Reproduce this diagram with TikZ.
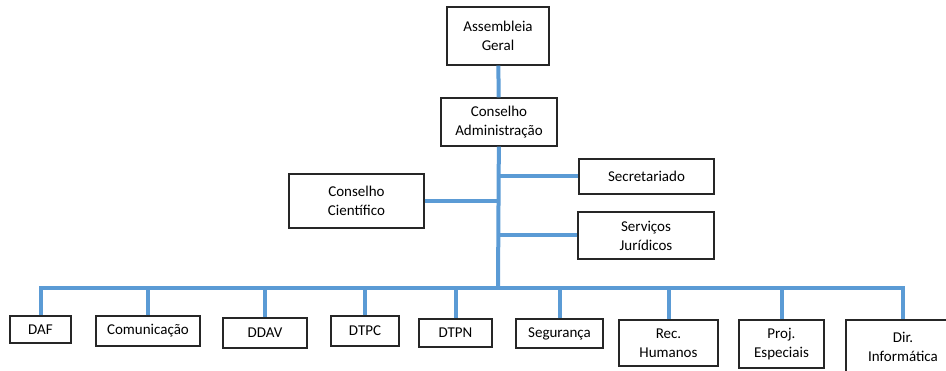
\documentclass[tikz,border=0pt]{standalone}
\usepackage{fontspec}
\setmainfont{Carlito}
\usepackage{tikz}
\definecolor{orgblue}{RGB}{91,155,213}

\begin{document}
\begin{tikzpicture}[x=1pt,y=-1pt,
	unit/.style={draw=black!85,line width=1.1pt,rectangle,align=center,inner sep=0pt,font=\fontsize{15}{19}\selectfont},
	link/.style={draw=orgblue,line width=4pt}]
\useasboundingbox (0,0) rectangle (946,371);
\clip (0,0) rectangle (946,371);
% top of the chart
\node[unit, minimum width=102pt, minimum height=58pt](ag)  at (498,36){Assembleia \\ Geral};
\node[unit, minimum width=116pt, minimum height=48pt](ca)  at (499,122){Conselho \\ Administração};
\node[unit, minimum width=135pt, minimum height=35pt](sec) at (646.5,176.5){Secretariado};
\node[unit, minimum width=135pt, minimum height=54pt](cc)  at (356.5,201){Conselho \\ Científico};
\node[unit, minimum width=136pt, minimum height=47pt](sj)  at (646,235.5){Serviços \\ Jurídicos};
% departments
\node[unit, minimum width=61pt,  minimum height=27pt](daf)  at (40.5,329.5){DAF};
\node[unit, minimum width=104pt, minimum height=30pt](com)  at (148,331){Comunicação};
\node[unit, minimum width=84pt,  minimum height=30pt](ddav) at (265,333){DDAV};
\node[unit, minimum width=68pt,  minimum height=30pt](dtpc) at (365,331){DTPC};
\node[unit, minimum width=73pt,  minimum height=28pt](dtpn) at (455.5,333){DTPN};
\node[unit, minimum width=87pt,  minimum height=29pt](seg)  at (559.5,333.5){Segurança};
\node[unit, minimum width=99pt,  minimum height=46pt](rh)   at (668.5,343){Rec. \\ Humanos};
\node[unit, minimum width=85pt,  minimum height=48pt](pe)   at (781.5,344){Proj. \\ Especiais};
\node[unit, minimum width=114pt, minimum height=54pt](di)   at (903,347){Dir. \\ Informática};
\coordinate (bus) at (498,288);
	\draw[link] (ag) -- (ca);
	\draw[link] (ca) -- (bus);
	\draw[link] (sec.west) -- (sec.west -| bus);
	\draw[link] (cc.east) -- (cc.east -| bus);
	\draw[link] (sj.west) -- (sj.west -| bus);
	\draw[link] (daf.north) |- (bus) -| (di.north);
	\foreach \d in {com,ddav,dtpc,dtpn,seg,rh,pe}
		\draw[link] (\d.north) -- (\d.north |- bus);
\end{tikzpicture}
\end{document}
